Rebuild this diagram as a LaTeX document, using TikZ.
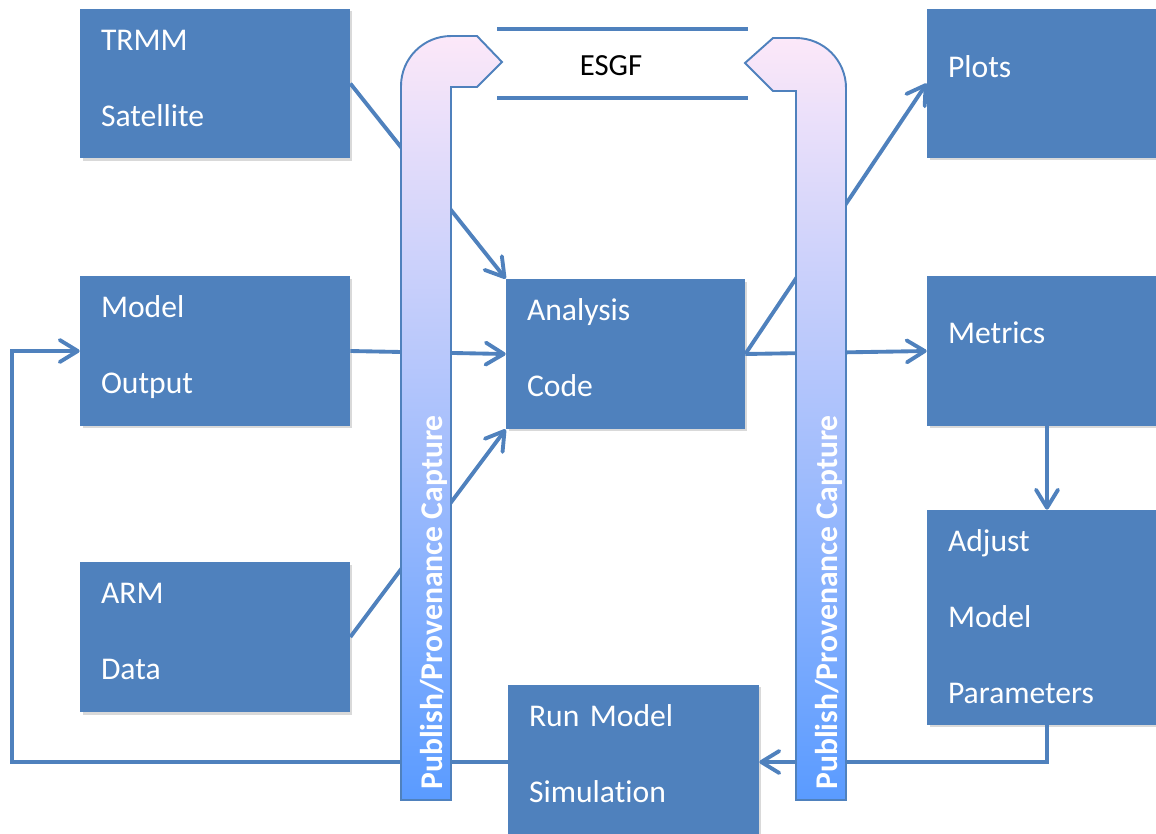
\documentclass[tikz,border=0pt]{standalone}
\usepackage{fontspec}
\setmainfont{Carlito}[Ligatures={TeX,NoCommon}]
\usetikzlibrary{arrows.meta,shadows}
\definecolor{boxblue}{RGB}{79,129,189}
\definecolor{pipetop}{RGB}{252,232,249}
\definecolor{pipemid}{RGB}{170,205,244}
\definecolor{pipebot}{RGB}{90,155,255}

\tikzset{
    block/.style={rectangle, fill=boxblue, inner sep=0pt, minimum width=5.4cm, minimum height=3cm,
        drop shadow={shadow xshift=0.05cm, shadow yshift=-0.05cm, opacity=0.3}},
    boxtext/.style={anchor=base west, xshift=0.42cm, yshift=-0.84cm, inner sep=0pt, text=white,
        text width=4.4cm, align=left, font=\fontsize{18}{43.2}\selectfont},
    conn/.style={draw=boxblue, line width=2.2pt},
    arr/.style={conn, -{Straight Barb[length=3.6mm,width=4.4mm,round]}},
    pipe/.style={draw=boxblue, line width=1.1pt, top color=pipetop, middle color=pipemid, bottom color=pipebot},
    pipetext/.style={rotate=90, anchor=west, inner sep=0pt, text=white, font=\fontsize{18}{22}\selectfont\bfseries},
}

\begin{document}
\begin{tikzpicture}[x=0.02cm, y=-0.02cm]
    \useasboundingbox (0,0) rectangle (1156,833);

    % data sources
    \node[block] (trmm) at (215,83.5) {};
    \node[boxtext] (trmm-txt) at (trmm.north west) {TRMM\\Satellite};
    \node[block] (model) at (215,351) {};
    \node[boxtext] (model-txt) at (model.north west) {Model\\Output};
    \node[block] (arm) at (215,637) {};
    \node[boxtext] (arm-txt) at (arm.north west) {ARM\\Data};

    % analysis and simulation
    \node[block, minimum width=4.78cm] (analysis) at (625.5,354) {};
    \node[boxtext] (analysis-txt) at (analysis.north west) {Analysis\\Code};
    \node[block, minimum width=5.02cm, minimum height=3.1cm] (run) at (633.5,762) {};
    \node[boxtext] (run-txt) at (run.north west) {Run Model\\Simulation};

    % results
    \node[block, minimum width=4.8cm, minimum height=2.98cm] (plots) at (1047,83.5) {};
    \node[boxtext, yshift=-0.54cm] (plots-txt) at (plots.north west) {Plots};
    \node[block, minimum width=4.8cm] (metrics) at (1047,351) {};
    \node[boxtext, yshift=-0.52cm] (metrics-txt) at (metrics.north west) {Metrics};
    \node[block, minimum width=4.8cm, minimum height=4.3cm] (adjust) at (1047,617.5) {};
    \node[boxtext] (adjust-txt) at (adjust.north west) {Adjust\\Model\\Parameters};

    % ESGF
    \node[font=\fontsize{17.5}{21}\selectfont] (esgf) at (611,65.5) {ESGF};
    \coordinate (esgf-a) at (497,29);
    \coordinate (esgf-b) at (748,29);
    \coordinate (esgf-c) at (497,98);
    \coordinate (esgf-d) at (748,98);
    \draw[conn] (esgf-a) -- (esgf-b);
    \draw[conn] (esgf-c) -- (esgf-d);

    % connectors
    \coordinate (loopL) at (12,0);
    \draw[arr] (trmm.east) -- (analysis.north west);
    \draw[arr] (model.east) -- (analysis.west);
    \draw[arr] (arm.east) -- (analysis.south west);
    \draw[arr] (analysis.east) -- (plots.west);
    \draw[arr] (analysis.east) -- (metrics.west);
    \draw[arr] (metrics.south) -- (adjust.north);
    \draw[arr] (adjust.south) |- (run.east);
    \draw[arr] (run.west) -- (run.west -| loopL) |- (model.west);

    % publish pipes
    \shadedraw[pipe] (401,800) -- (401,86) arc[start angle=180, end angle=90, radius=1cm]
        -- (477,36) -- (502,62) -- (477,87) -- (451,87) -- (451,800) -- cycle;
    \shadedraw[pipe] (846,800) -- (846,88) arc[start angle=0, end angle=90, radius=1cm]
        -- (773,38) -- (745,63) -- (773,91) -- (796,91) -- (796,800) -- cycle;
    \node[pipetext] (pipeL) at (434,790) {Publish/Provenance Capture};
    \node[pipetext] (pipeR) at (829,790) {Publish/Provenance Capture};
\end{tikzpicture}
\end{document}
